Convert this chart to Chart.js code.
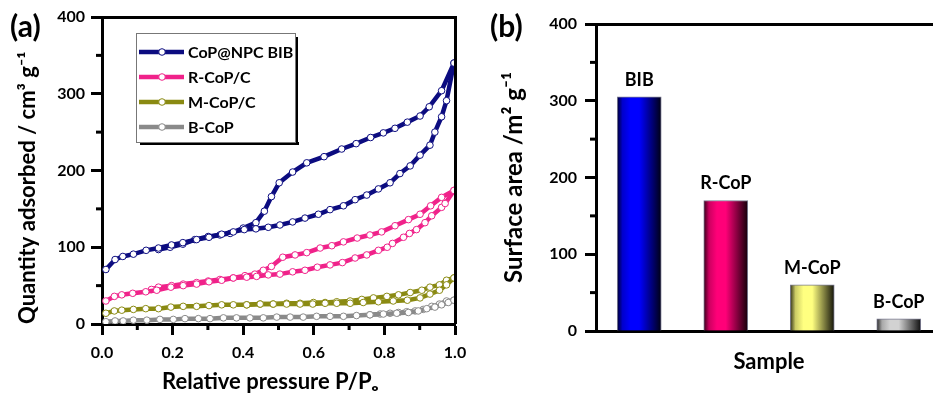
<!DOCTYPE html>
<html>
<head>
<meta charset="utf-8">
<script src="https://cdn.jsdelivr.net/npm/chart.js@4.4.0/dist/chart.umd.min.js"></script>
<style>
  body { margin: 0; width: 933px; height: 406px; overflow: hidden; position: relative; background: #fff; }
  #isoChart { position: absolute; left: 0; top: 0; }
  #areaChart { position: absolute; left: 480px; top: 0; }
</style>
</head>
<body>
<canvas id="isoChart" width="478" height="406"></canvas>
<canvas id="areaChart" width="480" height="406"></canvas>
<script>
// (a) N2 isotherms, P/Po and quantity adsorbed (cm3/g)
var seriesNames = ['CoP@NPC BIB', 'R-CoP/C', 'M-CoP/C', 'B-CoP'];
var seriesColors = ['#0c0c80', '#f0228a', '#8a8a12', '#8a8a8a'];

var bibAdsP = [0.011, 0.037, 0.059, 0.089, 0.125, 0.160, 0.197, 0.229, 0.268, 0.303, 0.339, 0.372, 0.403, 0.436, 0.471, 0.504, 0.540, 0.575, 0.613, 0.646, 0.684, 0.717, 0.750, 0.783, 0.816, 0.844, 0.873, 0.901, 0.929, 0.943, 0.962, 0.976, 0.997];
var bibAdsQ = [71, 84, 88, 91, 96, 99, 103, 106, 110, 113, 117, 120, 123, 124, 126, 129, 133, 138, 143, 149, 154, 162, 168, 176, 184, 196, 206, 220, 233, 250, 270, 291, 340];
var bibDesP = [0.997, 0.962, 0.927, 0.901, 0.865, 0.830, 0.797, 0.761, 0.720, 0.679, 0.629, 0.580, 0.540, 0.502, 0.480, 0.460, 0.436, 0.400, 0.363, 0.334, 0.301, 0.263, 0.229, 0.193, 0.160];
var bibDesQ = [340, 304, 283, 271, 263, 255, 249, 243, 235, 228, 218, 210, 198, 184, 166, 147, 132, 125, 118, 116, 114, 110, 104, 100, 97];

var rAdsP = [0.011, 0.035, 0.056, 0.087, 0.124, 0.155, 0.195, 0.230, 0.268, 0.303, 0.339, 0.372, 0.410, 0.438, 0.471, 0.504, 0.540, 0.575, 0.610, 0.646, 0.681, 0.717, 0.750, 0.783, 0.808, 0.823, 0.854, 0.871, 0.891, 0.915, 0.934, 0.962, 0.972, 0.997];
var rAdsQ = [30, 36, 38, 40, 42, 44, 48, 50, 52, 55, 57, 60, 61, 62, 64, 65, 68, 70, 74, 77, 80, 86, 90, 96, 100, 105, 113, 118, 123, 132, 141, 152, 157, 174];
var rDesP = [0.997, 0.962, 0.931, 0.901, 0.868, 0.830, 0.792, 0.759, 0.723, 0.684, 0.651, 0.618, 0.580, 0.547, 0.512, 0.480, 0.457, 0.433, 0.405, 0.372, 0.334, 0.301, 0.268, 0.230, 0.197, 0.160, 0.140];
var rDesQ = [174, 165, 154, 143, 136, 128, 120, 116, 112, 107, 102, 99, 93, 90, 87, 75, 70, 65, 63, 60, 58, 56, 54, 52, 50, 48, 45];

var mAdsP = [0.011, 0.035, 0.056, 0.089, 0.124, 0.160, 0.195, 0.230, 0.268, 0.303, 0.339, 0.372, 0.410, 0.448, 0.485, 0.523, 0.561, 0.597, 0.632, 0.665, 0.703, 0.740, 0.783, 0.825, 0.865, 0.901, 0.929, 0.956, 0.976, 0.997];
var mAdsQ = [14, 17, 18, 19, 20, 20, 22, 23, 23, 24, 25, 25, 25, 26, 26, 26, 26, 26, 27, 27, 27, 28, 29, 30, 31, 34, 39, 44, 51, 60];
var mDesP = [0.997, 0.976, 0.956, 0.929, 0.906, 0.873, 0.840, 0.807, 0.769, 0.736, 0.703, 0.665, 0.632, 0.599, 0.561, 0.523, 0.485, 0.448, 0.410];
var mDesQ = [60, 57, 51, 48, 44, 41, 38, 36, 34, 32, 30, 29, 28, 28, 27, 27, 26, 26, 25];

var bAdsP = [0.011, 0.037, 0.060, 0.089, 0.127, 0.164, 0.202, 0.235, 0.273, 0.306, 0.344, 0.381, 0.419, 0.457, 0.495, 0.533, 0.570, 0.608, 0.646, 0.684, 0.721, 0.759, 0.797, 0.835, 0.868, 0.896, 0.920, 0.943, 0.962, 0.981, 0.997];
var bAdsQ = [3, 4, 4, 5, 5, 6, 6, 7, 7, 7, 8, 8, 8, 8, 9, 9, 9, 10, 10, 10, 11, 12, 13, 14, 15, 17, 20, 22, 25, 28, 31];
var bDesP = [0.997, 0.976, 0.956, 0.934, 0.910, 0.887, 0.863, 0.840, 0.816, 0.788, 0.759];
var bDesQ = [31, 30, 26, 23, 19, 17, 16, 15, 14, 13, 12];

// (b) BET surface area (m2/g)
var samples = ['BIB', 'R-CoP', 'M-CoP', 'B-CoP'];
var surfaceArea = [305, 170, 60, 16];
var barColors = ['#0000ff', '#ff0078', '#ffff80', '#d2d2d2'];

var FONT = "Lato, 'DejaVu Sans', sans-serif";
Chart.defaults.font.family = FONT;
Chart.defaults.font.weight = 'bold';
Chart.defaults.color = '#000';

function pts(p, q) {
  return p.map(function (v, i) { return { x: v, y: q[i] }; });
}

function branch(p, q, k) {
  return {
    data: pts(p, q),
    borderColor: seriesColors[k],
    borderWidth: 4.5,
    pointRadius: 3.3,
    pointBackgroundColor: '#fff',
    pointBorderColor: seriesColors[k],
    pointBorderWidth: 1,
    showLine: true,
    tension: 0
  };
}

function shade(hex, f) {
  var n = parseInt(hex.slice(1), 16);
  var r = Math.round(((n >> 16) & 255) * f), g = Math.round(((n >> 8) & 255) * f), b = Math.round((n & 255) * f);
  return 'rgb(' + r + ',' + g + ',' + b + ')';
}

// short ticks between the labelled ones
function minorTicks(list) {
  return {
    id: 'minorTicks',
    afterDraw: function (chart) {
      var ctx = chart.ctx, a = chart.chartArea;
      ctx.save();
      ctx.strokeStyle = '#000';
      ctx.lineWidth = 3;
      list.forEach(function (m) {
        var s = chart.scales[m[0]];
        for (var v = s.min + m[1]; v < s.max; v += 2 * m[1]) {
          var p = s.getPixelForValue(v);
          ctx.beginPath();
          if (s.isHorizontal()) { ctx.moveTo(p, a.bottom); ctx.lineTo(p, a.bottom + 6); }
          else { ctx.moveTo(a.left, p); ctx.lineTo(a.left - 6, p); }
          ctx.stroke();
        }
      });
      ctx.restore();
    }
  };
}

var frame = {
  id: 'frame',
  afterDraw: function (chart) {
    var ctx = chart.ctx, a = chart.chartArea;
    ctx.save();
    ctx.strokeStyle = '#000';
    ctx.lineWidth = 3;
    ctx.beginPath();
    ctx.moveTo(a.left, a.top + 0.5);
    ctx.lineTo(a.right + 0.5, a.top + 0.5);
    ctx.lineTo(a.right + 0.5, a.bottom);
    ctx.stroke();
    ctx.restore();
  }
};

function panelLabel(txt) {
  return {
    id: 'panelLabel',
    afterDraw: function (chart) {
      var ctx = chart.ctx;
      ctx.save();
      ctx.font = 'bold 30px ' + FONT;
      ctx.fillStyle = '#000';
      ctx.textBaseline = 'middle';
      ctx.fillText(txt, 10, 27);
      ctx.restore();
    }
  };
}

var boxLegend = {
  id: 'boxLegend',
  afterDraw: function (chart) {
    var ctx = chart.ctx;
    var x = 136, y = 33, w = 159, h = 109;
    ctx.save();
    ctx.fillStyle = '#000';
    ctx.fillRect(x + 4, y + h, w, 3);
    ctx.fillRect(x + w, y + 4, 3, h - 1);
    ctx.fillStyle = '#fff';
    ctx.fillRect(x, y, w, h);
    ctx.strokeStyle = '#777';
    ctx.lineWidth = 1;
    ctx.strokeRect(x + 0.5, y + 0.5, w, h);
    ctx.font = 'bold 16px ' + FONT;
    ctx.textBaseline = 'middle';
    seriesNames.forEach(function (name, i) {
      var ry = 52 + i * 25;
      ctx.strokeStyle = seriesColors[i];
      ctx.lineWidth = 4.5;
      ctx.beginPath();
      ctx.moveTo(139, ry);
      ctx.lineTo(184, ry);
      ctx.stroke();
      ctx.beginPath();
      ctx.arc(162, ry, 3.3, 0, Math.PI * 2);
      ctx.fillStyle = '#fff';
      ctx.fill();
      ctx.lineWidth = 1;
      ctx.stroke();
      ctx.fillStyle = '#000';
      ctx.fillText(name, 188, ry + 1);
    });
    ctx.restore();
  }
};

var barLabels = {
  id: 'barLabels',
  afterDatasetsDraw: function (chart) {
    var ctx = chart.ctx;
    ctx.save();
    ctx.font = 'bold 18px ' + FONT;
    ctx.fillStyle = '#000';
    ctx.textAlign = 'center';
    ctx.textBaseline = 'middle';
    chart.getDatasetMeta(0).data.forEach(function (el, i) {
      ctx.fillText(samples[i], el.x, el.y - 17);
    });
    ctx.restore();
  }
};

new Chart(document.getElementById('isoChart'), {
  type: 'scatter',
  data: {
    datasets: [
      branch(bAdsP, bAdsQ, 3), branch(bDesP, bDesQ, 3),
      branch(mAdsP, mAdsQ, 2), branch(mDesP, mDesQ, 2),
      branch(rAdsP, rAdsQ, 1), branch(rDesP, rDesQ, 1),
      branch(bibAdsP, bibAdsQ, 0), branch(bibDesP, bibDesQ, 0)
    ]
  },
  options: {
    responsive: false,
    animation: false,
    devicePixelRatio: 1,
    layout: { padding: { left: 0, right: 23, top: 17, bottom: 0 } },
    plugins: { legend: { display: false }, tooltip: { enabled: false } },
    scales: {
      x: {
        type: 'linear', min: 0, max: 1,
        afterFit: function (s) { s.height = 82; },
        ticks: { stepSize: 0.2, padding: 8, font: { size: 16 }, callback: function (v) { return v.toFixed(1); } },
        grid: { drawOnChartArea: false, tickLength: 11, tickWidth: 3, tickColor: '#000' },
        border: { color: '#000', width: 3 },
        title: { display: true, text: 'Relative pressure P/P\u2092\u2003', font: { size: 22 }, padding: { top: 0, bottom: 11 } }
      },
      y: {
        min: 0, max: 400,
        afterFit: function (s) { s.width = 102; },
        ticks: { stepSize: 100, padding: 6, font: { size: 16 } },
        grid: { drawOnChartArea: false, tickLength: 11, tickWidth: 3, tickColor: '#000' },
        border: { color: '#000', width: 3 },
        title: { display: true, align: 'start', text: 'Quantity adsorbed / cm\u00b3 g\u207b\u00b9', font: { size: 22 }, padding: { top: 15, bottom: 0 } }
      }
    }
  },
  plugins: [minorTicks([['x', 0.1], ['y', 50]]), frame, boxLegend, panelLabel('(a)')]
});

new Chart(document.getElementById('areaChart'), {
  type: 'bar',
  data: {
    labels: samples,
    datasets: [{
      data: surfaceArea,
      barThickness: 44,
      borderWidth: 1,
      borderColor: '#7a7a90',
      borderSkipped: 'bottom',
      backgroundColor: function (c) {
        var chart = c.chart, xs = chart.scales.x;
        if (!xs || c.dataIndex === undefined) return barColors[0];
        var col = barColors[c.dataIndex];
        var cx = xs.getPixelForValue(c.dataIndex);
        if (!isFinite(cx)) return col;
        var g = chart.ctx.createLinearGradient(cx - 22, 0, cx + 22, 0);
        g.addColorStop(0, shade(col, 0.2));
        g.addColorStop(0.12, shade(col, 0.8));
        g.addColorStop(0.3, col);
        g.addColorStop(0.5, col);
        g.addColorStop(0.8, shade(col, 0.45));
        g.addColorStop(1, shade(col, 0.08));
        return g;
      }
    }]
  },
  options: {
    responsive: false,
    animation: false,
    devicePixelRatio: 1,
    layout: { padding: { left: 0, right: 18, top: 24, bottom: 0 } },
    plugins: { legend: { display: false }, tooltip: { enabled: false } },
    scales: {
      x: {
        afterFit: function (s) { s.height = 75; },
        ticks: { display: false },
        grid: { display: false },
        border: { color: '#000', width: 3 },
        title: { display: true, text: 'Sample', font: { size: 22 }, padding: { top: 0, bottom: 31 } }
      },
      y: {
        min: 0, max: 400,
        afterFit: function (s) { s.width = 116; },
        ticks: { stepSize: 100, padding: 8, font: { size: 16 } },
        grid: { drawOnChartArea: false, tickLength: 11, tickWidth: 3, tickColor: '#000' },
        border: { color: '#000', width: 3 },
        title: { display: true, text: 'Surface area /m\u00b2 g\u207b\u00b9', font: { size: 24 }, padding: { top: 20, bottom: 0 } }
      }
    }
  },
  plugins: [minorTicks([['y', 50]]), frame, barLabels, panelLabel('(b)')]
});
</script>
</body>
</html>
